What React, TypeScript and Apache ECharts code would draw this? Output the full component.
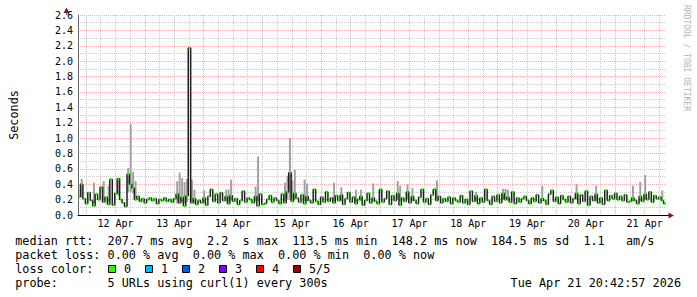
import React, { useEffect, useRef } from 'react';
import * as echarts from 'echarts';

// ---------- data ----------
// time axis: hours since Apr 11 00:00; graph starts Apr 11 20:43 and covers 240 hourly samples
const START_HOUR = 20 + 43 / 60;
const SAMPLE_HOURS = 1;
const DAY_LABELS = ['12 Apr', '13 Apr', '14 Apr', '15 Apr', '16 Apr', '17 Apr', '18 Apr', '19 Apr', '20 Apr', '21 Apr'];
const Y_TICKS_MAX = 2.6;
const Y_INTERVAL = 0.2;

// median rtt (seconds), one value per hour
const MEDIAN = [
  0.24, 0.40, 0.21, 0.15, 0.29, 0.19, 0.12, 0.27, 0.20, 0.36,
  0.17, 0.23, 0.14, 0.46, 0.13, 0.28, 0.47, 0.20, 0.16, 0.11,
  0.53, 0.40, 0.35, 0.20, 0.24, 0.18, 0.21, 0.16, 0.20, 0.22,
  0.19, 0.21, 0.15, 0.20, 0.19, 0.22, 0.18, 0.20, 0.17, 0.21,
  0.27, 0.16, 0.23, 0.12, 0.25, 2.17, 0.16, 0.21, 0.14, 0.19,
  0.16, 0.22, 0.13, 0.24, 0.33, 0.18, 0.27, 0.16, 0.29, 0.19,
  0.24, 0.15, 0.25, 0.18, 0.21, 0.14, 0.19, 0.31, 0.17, 0.22,
  0.20, 0.16, 0.24, 0.12, 0.27, 0.14, 0.15, 0.20, 0.25, 0.17,
  0.22, 0.19, 0.15, 0.27, 0.16, 0.30, 0.55, 0.18, 0.28, 0.22,
  0.17, 0.26, 0.15, 0.24, 0.19, 0.16, 0.33, 0.18, 0.14, 0.23,
  0.17, 0.30, 0.18, 0.22, 0.16, 0.25, 0.19, 0.26, 0.14, 0.21,
  0.29, 0.17, 0.23, 0.15, 0.20, 0.24, 0.13, 0.19, 0.28, 0.16,
  0.22, 0.18, 0.15, 0.33, 0.17, 0.21, 0.31, 0.14, 0.25, 0.19,
  0.28, 0.13, 0.22, 0.18, 0.30, 0.16, 0.24, 0.19, 0.15, 0.23,
  0.33, 0.17, 0.21, 0.14, 0.26, 0.33, 0.19, 0.24, 0.16, 0.21,
  0.18, 0.23, 0.15, 0.22, 0.19, 0.17, 0.25, 0.16, 0.20, 0.14,
  0.31, 0.18, 0.25, 0.15, 0.22, 0.17, 0.33, 0.19, 0.14, 0.24,
  0.18, 0.26, 0.16, 0.28, 0.20, 0.23, 0.17, 0.30, 0.15, 0.22,
  0.17, 0.21, 0.24, 0.19, 0.15, 0.22, 0.18, 0.26, 0.16, 0.21,
  0.19, 0.14, 0.27, 0.32, 0.18, 0.23, 0.15, 0.25, 0.20, 0.17,
  0.24, 0.16, 0.21, 0.28, 0.15, 0.26, 0.18, 0.31, 0.13, 0.24,
  0.19, 0.27, 0.16, 0.22, 0.14, 0.32, 0.19, 0.25, 0.21, 0.28,
  0.20, 0.24, 0.19, 0.26, 0.17, 0.18, 0.22, 0.19, 0.15, 0.24,
  0.18, 0.27, 0.20, 0.30, 0.17, 0.25, 0.21, 0.23, 0.19, 0.15,
];

// visible smoke (sample index, lowest ping, highest ping) in seconds
const SMOKE: [number, number, number][] = [
  [1, 0.22, 0.47], [6, 0.15, 0.42], [10, 0.18, 0.44], [12, 0.16, 0.38], [16, 0.25, 0.48],
  [20, 0.30, 0.61], [21, 0.30, 1.18], [22, 0.28, 0.56], [23, 0.20, 0.44],
  [40, 0.15, 0.44], [41, 0.15, 0.55], [42, 0.17, 0.48], [43, 0.15, 0.43], [44, 0.17, 0.47],
  [46, 0.15, 0.46], [47, 0.15, 0.33], [51, 0.16, 0.32], [60, 0.18, 0.33], [61, 0.16, 0.33],
  [62, 0.20, 0.46], [72, 0.18, 0.37], [73, 0.18, 0.76], [84, 0.18, 0.42], [85, 0.20, 0.51],
  [86, 0.20, 1.0], [87, 0.18, 0.45], [88, 0.20, 0.59], [92, 0.18, 0.46], [93, 0.18, 0.41],
  [104, 0.18, 0.42], [107, 0.18, 0.36], [113, 0.17, 0.33], [115, 0.18, 0.33], [120, 0.18, 0.41],
  [130, 0.20, 0.44], [131, 0.18, 0.38], [134, 0.20, 0.40], [136, 0.18, 0.35], [146, 0.18, 0.45],
  [162, 0.18, 0.30], [173, 0.20, 0.34], [174, 0.20, 0.34], [175, 0.18, 0.33], [189, 0.18, 0.38],
  [203, 0.20, 0.40], [211, 0.18, 0.38], [226, 0.18, 0.38], [229, 0.18, 0.43], [231, 0.20, 0.52],
  [238, 0.18, 0.32],
];

const LOSS_LABELS = ['0', '1', '2', '3', '4', '5/5'];
const LOSS_COLORS = ['#26ff00', '#00b8ff', '#0059ff', '#7e00ff', '#ff0000', '#a10000'];

const LEGEND_LINES = [
  'median rtt:  207.7 ms avg  2.2  s max  113.5 ms min  148.2 ms now  184.5 ms sd  1.1   am/s',
  'packet loss: 0.00 % avg  0.00 % max  0.00 % min  0.00 % now',
  'loss color:',
  'probe:       5 URLs using curl(1) every 300s',
];
const STAMP = 'Tue Apr 21 20:42:57 2026';
const WATERMARK = 'RRDTOOL / TOBI OETIKER';
const Y_NAME = 'Seconds';

// ---------- layout / style ----------
const FONT = '"DejaVu Sans Mono", monospace';
const LEGEND_SIZE = 11.8;
const END_HOUR = START_HOUR + MEDIAN.length * SAMPLE_HOURS;
const MIDNIGHTS = DAY_LABELS.map((_, d) => 24 * (d + 1));
const NOONS = MIDNIGHTS.map((h) => h + 12);
const QUARTERS: number[] = [];
for (let h = 6; h < END_HOUR; h += 6) if (h > START_HOUR && h % 24 !== 0) QUARTERS.push(h);

const MAJOR = '#f0b0b0';
const MINOR = '#cccccc';

function buildOption(): any {
  const lineData: number[][] = MEDIAN.map((v, i) => [START_HOUR + i * SAMPLE_HOURS, v]);
  lineData.push([END_HOUR, MEDIAN[MEDIAN.length - 1]]);
  const bandData = MEDIAN.map((v, i) => [START_HOUR + i * SAMPLE_HOURS, v]);
  const smokeData = SMOKE.map(([i, lo, hi]) => [START_HOUR + i * SAMPLE_HOURS, lo, hi]);

  const txt = (x: number, y: number, text: string, align = 'left', size = LEGEND_SIZE) => ({
    type: 'text', x, y, silent: true,
    style: { text, fill: '#000', font: `${size}px ${FONT}`, align, verticalAlign: 'middle', textAlign: align, textVerticalAlign: 'middle' },
  });

  const graphic: any[] = [];
  LEGEND_LINES.forEach((t, k) => graphic.push(txt(15.2, 241 + k * 14, t)));
  LOSS_LABELS.forEach((l, k) => {
    const x0 = 108 + k * 37;
    graphic.push({ type: 'rect', silent: true, shape: { x: x0 + 0.5, y: 265.5, width: 7, height: 7 }, style: { fill: LOSS_COLORS[k], stroke: '#000', lineWidth: 1 } });
    graphic.push(txt(x0 + 16, 269, l));
  });
  graphic.push(txt(681, 283, STAMP, 'right'));
  graphic.push({
    type: 'text', x: 686, y: 5, rotation: -Math.PI / 2, silent: true,
    style: { text: WATERMARK, fill: '#b4b4b4', font: `8px ${FONT}`, align: 'left', verticalAlign: 'middle', textAlign: 'left', textVerticalAlign: 'middle' },
  });
  graphic.push({ type: 'line', silent: true, shape: { x1: 66.5, y1: 12, x2: 66.5, y2: 15 }, style: { stroke: '#666', lineWidth: 1 } });
  graphic.push({ type: 'line', silent: true, shape: { x1: 666, y1: 215.5, x2: 669, y2: 215.5 }, style: { stroke: '#000', lineWidth: 1 } });
  graphic.push({ type: 'polygon', silent: true, shape: { points: [[63.5, 13], [69.5, 13], [66.5, 7.5]] }, style: { fill: '#801f1f' } });
  graphic.push({ type: 'polygon', silent: true, shape: { points: [[668.5, 212.5], [668.5, 218.5], [674, 215.5]] }, style: { fill: '#801f1f' } });

  return {
    animation: false,
    backgroundColor: '#ffffff',
    textStyle: { fontFamily: FONT },
    grid: { left: 66, right: 31, top: 15, bottom: 82, containLabel: false },
    xAxis: [
      {
        type: 'value', min: START_HOUR, max: END_HOUR, position: 'bottom', z: 2,
        axisLine: { show: true, lineStyle: { color: '#000', width: 1 } },
        axisTick: { show: false, customValues: MIDNIGHTS },
        axisLabel: {
          customValues: NOONS, margin: 3, fontSize: 10, fontFamily: FONT, color: '#000',
          formatter: (v: number) => DAY_LABELS[Math.round((v - 12) / 24) - 1] ?? '',
        },
        splitLine: { show: true, lineStyle: { color: MAJOR, type: [1, 1], width: 1 } },
      },
      {
        type: 'value', min: START_HOUR, max: END_HOUR, position: 'bottom', z: 1,
        axisLine: { show: false }, axisLabel: { show: false },
        axisTick: { show: false, customValues: QUARTERS },
        splitLine: { show: true, lineStyle: { color: MINOR, type: [1, 1], width: 1 } },
      },
    ],
    yAxis: {
      type: 'value', min: 0, max: Y_TICKS_MAX, interval: Y_INTERVAL,
      name: Y_NAME, nameLocation: 'middle', nameGap: 58, nameRotate: 90,
      nameTextStyle: { fontFamily: FONT, fontSize: LEGEND_SIZE, color: '#000' },
      axisLine: { show: true, lineStyle: { color: '#666', width: 1 } },
      axisTick: { show: false },
      axisLabel: { margin: 5, fontSize: 10, fontFamily: FONT, color: '#000', formatter: (v: number) => v.toFixed(1) },
      splitLine: { show: true, lineStyle: { color: MAJOR, type: [1, 1], width: 1 } },
      minorTick: { show: false, splitNumber: 2 },
      minorSplitLine: { show: true, lineStyle: { color: MINOR, type: [1, 1], width: 1 } },
    },
    graphic,
    series: [
      {
        type: 'custom', name: 'smoke', z: 2, clip: true,
        encode: { x: 0, y: [1, 2] },
        data: smokeData,
        renderItem: (_p: any, api: any) => {
          const t = api.value(0);
          const a = api.coord([t + 0.1, api.value(2)]);
          const b = api.coord([t + 0.9, api.value(1)]);
          return { type: 'rect', shape: { x: a[0], y: a[1], width: b[0] - a[0], height: b[1] - a[1] }, style: { fill: '#a0a0a0' } };
        },
      },
      {
        type: 'line', name: 'median', z: 3, step: 'end', symbol: 'none', showSymbol: false,
        data: lineData, lineStyle: { color: '#202020', width: 1.5 }, clip: true,
      },
      {
        type: 'custom', name: 'loss 0', z: 4, clip: true,
        encode: { x: 0, y: 1 },
        data: bandData,
        renderItem: (_p: any, api: any) => {
          const t = api.value(0);
          const v = api.value(1);
          const a = api.coord([t, v]);
          const b = api.coord([t + SAMPLE_HOURS, v]);
          return { type: 'rect', shape: { x: a[0] + 0.4, y: a[1] - 1.25, width: b[0] - a[0] - 0.8, height: 2.5 }, style: { fill: LOSS_COLORS[0] } };
        },
      },
    ],
  };
}

export default function App() {
  const ref = useRef<HTMLDivElement>(null);
  useEffect(() => {
    if (!ref.current) return;
    const chart = echarts.init(ref.current, null, { renderer: 'svg' });
    chart.setOption(buildOption());
    return () => chart.dispose();
  }, []);
  return (
    <div
      ref={ref}
      style={{ position: 'fixed', left: 0, top: 0, width: 697, height: 297, background: '#fff' }}
    />
  );
}
